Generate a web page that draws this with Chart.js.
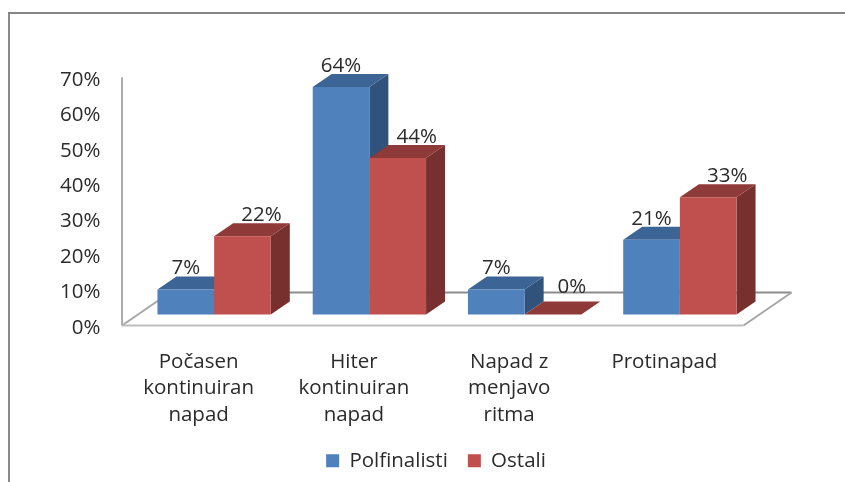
<!DOCTYPE html>
<html>
<head>
<meta charset="utf-8">
<script src="https://cdn.jsdelivr.net/npm/chart.js@4/dist/chart.umd.min.js"></script>
<style>
html, body { margin: 0; padding: 0; background: #fff; }
#wrap { width: 845px; height: 482px; position: relative; }
canvas { filter: blur(0.4px); }
</style>
</head>
<body>
<div id="wrap"><canvas id="chart"></canvas></div>
<script>
const categories = [
    ['Počasen', 'kontinuiran', 'napad'],
    ['Hiter', 'kontinuiran', 'napad'],
    ['Napad z', 'menjavo', 'ritma'],
    ['Protinapad']
];
const polfinalisti = [7, 64, 7, 21];
const ostali = [22, 44, 0, 33];
const yTicks = [0, 10, 20, 30, 40, 50, 60, 70];

const FONT = '"Open Sans", sans-serif';
const FONT_SIZE = 20.5;
const TEXT = '#2b2b2b';
const DX = 19, DY = -13;

const shades = [
    { top: '#3c6494', side: '#30527b' },
    { top: '#8e3a38', side: '#78302e' }
];

function poly(ctx, pts, color) {
    ctx.fillStyle = color;
    ctx.beginPath();
    pts.forEach((p, i) => i ? ctx.lineTo(p[0], p[1]) : ctx.moveTo(p[0], p[1]));
    ctx.closePath();
    ctx.fill();
}

function line(ctx, x1, y1, x2, y2, color) {
    ctx.strokeStyle = color;
    ctx.lineWidth = 2;
    ctx.beginPath();
    ctx.moveTo(x1, y1);
    ctx.lineTo(x2, y2);
    ctx.stroke();
}

// 3D look: frame, floor and wall first, then the tops and sides of the bars
const depthPlugin = {
    id: 'depth',
    beforeDatasetsDraw(chart) {
        const ctx = chart.ctx;
        const wall = chart.scales.yWall;
        const area = chart.chartArea;
        const x0 = area.left - 14.5;
        const y0 = wall.getPixelForValue(0);
        const yTop = wall.getPixelForValue(70);
        const xr = area.right - 14;
        ctx.save();
        // outer frame
        line(ctx, 9, 482, 9, 13, '#8a8a8a');
        line(ctx, 8, 13, 845, 13, '#858585');
        // floor and wall
        line(ctx, x0 + 48, y0 - 33, xr + 48, y0 - 33, '#8c8c8c');
        line(ctx, x0, y0, x0 + 48, y0 - 33, '#a6a6a6');
        line(ctx, xr, y0, xr + 48, y0 - 33, '#a6a6a6');
        line(ctx, x0, y0, xr, y0, '#bdbdbd');
        line(ctx, x0, y0, x0, yTop, '#adadad');
        // bar sides and tops
        chart.data.datasets.forEach((ds, d) => {
            chart.getDatasetMeta(d).data.forEach(bar => {
                const l = bar.x - bar.width / 2;
                const r = bar.x + bar.width / 2;
                poly(ctx, [[r, bar.y], [r + DX, bar.y + DY], [r + DX, bar.base + DY], [r, bar.base]], shades[d].side);
                poly(ctx, [[l, bar.y], [l + DX, bar.y + DY], [r + DX, bar.y + DY], [r, bar.y]], shades[d].top);
            });
        });
        ctx.restore();
    },
    afterDatasetsDraw(chart) {
        const ctx = chart.ctx;
        ctx.save();
        ctx.font = FONT_SIZE + 'px ' + FONT;
        ctx.fillStyle = TEXT;
        ctx.textAlign = 'center';
        ctx.textBaseline = 'middle';
        chart.data.datasets.forEach((ds, d) => {
            chart.getDatasetMeta(d).data.forEach((bar, i) => {
                const v = ds.data[i];
                ctx.fillText(v + '%', bar.x + (d === 1 ? 19 : 0), bar.y - (v === 0 ? 27 : 21));
            });
        });
        ctx.restore();
    }
};

new Chart(document.getElementById('chart'), {
    type: 'bar',
    data: {
        labels: categories,
        datasets: [
            { label: 'Polfinalisti', data: polfinalisti, backgroundColor: '#4f81bd', yAxisID: 'y' },
            { label: 'Ostali', data: ostali, backgroundColor: '#c0504d', yAxisID: 'y' }
        ]
    },
    options: {
        responsive: true,
        maintainAspectRatio: false,
        animation: false,
        layout: { padding: { top: 66, left: 27, right: 0, bottom: 1 } },
        datasets: { bar: { categoryPercentage: 0.73, barPercentage: 1 } },
        scales: {
            // labels sit on the front edge of the floor, left of the bars
            x: {
                grid: { display: false },
                border: { display: false },
                afterFit(scale) { scale.height = 105; },
                ticks: {
                    autoSkip: false,
                    maxRotation: 0,
                    padding: 15,
                    labelOffset: -15.5,
                    color: TEXT,
                    font: { family: FONT, size: FONT_SIZE, lineHeight: 1.3 }
                }
            },
            // bar scale, its zero sits above the wall's zero
            y: {
                position: 'right',
                min: -3.1,
                max: 69.9,
                ticks: { display: false },
                grid: { display: false },
                border: { display: false },
                afterFit(scale) { scale.width = 87.5; }
            },
            yWall: {
                type: 'linear',
                position: 'left',
                min: 0,
                max: 73.2,
                grid: { display: false, drawTicks: false },
                border: { display: false },
                afterBuildTicks(scale) { scale.ticks = yTicks.map(v => ({ value: v })); },
                afterFit(scale) { scale.width = 109.5; },
                ticks: {
                    padding: 36,
                    labelOffset: 2.5,
                    color: TEXT,
                    font: { family: FONT, size: FONT_SIZE },
                    callback: value => value + '%'
                }
            }
        },
        plugins: {
            tooltip: { enabled: false },
            legend: {
                position: 'bottom',
                labels: {
                    boxWidth: 13,
                    boxHeight: 13,
                    padding: 20,
                    color: TEXT,
                    font: { family: FONT, size: FONT_SIZE }
                }
            }
        }
    },
    plugins: [depthPlugin]
});
</script>
</body>
</html>
